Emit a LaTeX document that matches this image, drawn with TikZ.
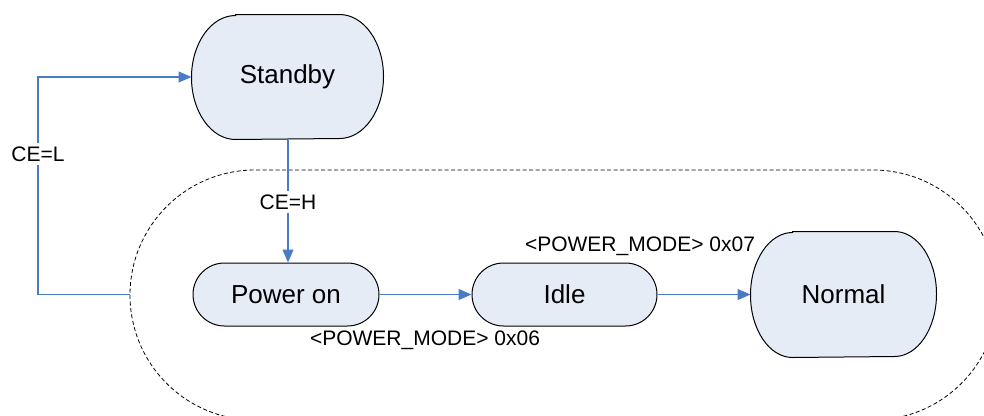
\documentclass[tikz,border=0pt]{standalone}
\usepackage{fontspec}
\setmainfont{Liberation Sans}
\usetikzlibrary{arrows.meta,calc,backgrounds}
\definecolor{linkblue}{HTML}{4A7CC6}
\definecolor{statefill}{HTML}{E6ECF6}
\tikzset{
  state/.style={line width=1pt, inner sep=0pt, font=\fontsize{26}{30}\selectfont},
  bigstate/.style={state},
  flatstate/.style={state, draw=black, fill=statefill, minimum width=186pt,
    minimum height=63pt, rounded corners=31.5pt},
  outline/.style={draw=black, line width=1pt, fill=statefill},
  link/.style={draw=linkblue, line width=1.1pt,
    -{Triangle[length=13pt,width=11pt]}},
  lbl/.style={font=\fontsize{21}{25}\selectfont, inner sep=1pt},
  wlbl/.style={lbl, fill=white, inner ysep=4pt},
  group/.style={draw=black, line width=0.8pt, dash pattern=on 4pt off 2.5pt, rounded corners=125pt}
}
% outline of a state whose two ends are half ellipses
\newcommand{\ovalstate}[3]{%
  \begin{pgfonlayer}{background}
  \draw[outline] ($(#1.north west)+(#2,0)$) -- ($(#1.north east)+(-#2,0)$)
    arc[start angle=90, end angle=-90, x radius=#2pt, y radius=#3pt]
    -- ($(#1.south west)+(#2,0)$)
    arc[start angle=270, end angle=90, x radius=#2pt, y radius=#3pt] -- cycle;
  \end{pgfonlayer}}
\begin{document}
\begin{tikzpicture}[x=1pt,y=-1pt]
\useasboundingbox (0,0) rectangle (984,415);
\clip (0,0) rectangle (984,415);

% operating-state group
\draw[group] (130,170) rectangle (998,420);
\coordinate (gl) at (130,294.5);
\coordinate (lc) at (38,294.5);

% states
\node[bigstate, minimum width=191pt, minimum height=124pt] (standby) at (287.5,77) {Standby};
\ovalstate{standby}{44}{62}
\node[flatstate] (poweron) at (286,294.5) {Power on};
\node[flatstate, minimum width=185pt] (idle) at (564.5,294.5) {Idle};
\node[bigstate, minimum width=185pt, minimum height=125pt] (normal) at (843.5,294.5) {Normal};
\ovalstate{normal}{42}{62.5}

% transitions
\draw[link] (standby.south -| 288,0) -- (poweron.north -| 288,0);
\draw[link] (gl) -- (lc) |- (standby.west);
\draw[link] (poweron.east) -- (idle.west);
\draw[link] (idle.east) -- (normal.west);

% labels
\node[wlbl] (ceh) at (288,202) {CE=H};
\node[wlbl] (cel) at (38,154) {CE=L};
\node[lbl] (pm6) at (425,340) {<POWER\_MODE> 0x06};
\node[lbl] (pm7) at (640,246) {<POWER\_MODE> 0x07};
\end{tikzpicture}
\end{document}
